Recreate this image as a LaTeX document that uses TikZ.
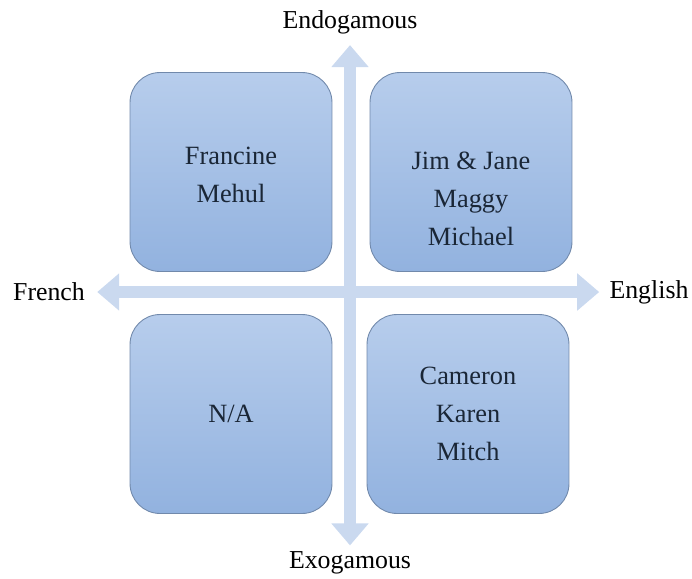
\documentclass[tikz,border=0pt]{standalone}
\usepackage{fontspec}
\setmainfont{Liberation Serif}
\usepackage{tikz}
\usetikzlibrary{positioning,arrows.meta}
\definecolor{boxtop}{HTML}{B7CDEC}
\definecolor{boxbot}{HTML}{92B2DF}
\definecolor{boxline}{HTML}{7189AB}
\definecolor{axisblue}{HTML}{CAD9EF}
\definecolor{txtdark}{HTML}{1A2636}

\tikzset{
  quad/.style={rectangle, rounded corners=0.6cm, draw=boxline, line width=0.5pt,
    top color=boxtop, bottom color=boxbot, minimum width=4.04cm, minimum height=3.98cm},
  names/.style={align=center, text=txtdark, font=\rmfamily\fontsize{15}{21.8}\selectfont},
  axislabel/.style={inner sep=0pt, font=\rmfamily\fontsize{14.7}{17}\selectfont},
  axisline/.style={draw=axisblue, line width=0.24cm,
    {Triangle[width=0.72cm,length=0.44cm]}-{Triangle[width=0.72cm,length=0.44cm]}}
}

\begin{document}
\begin{tikzpicture}[x=0.02cm, y=-0.02cm]
  \useasboundingbox (0,0) rectangle (692,578);

  % axis labels
  \node[axislabel] (endo) at (350,22) {Endogamous};
  \node[axislabel] (exo) at (350,563) {Exogamous};
  \node[axislabel] (french) at (49,292) {French};
  \node[axislabel] (english) at (649,292) {English};

  % axes
  \draw[axisline, shorten <=0.24cm, shorten >=0.2cm] (french.east) -- (english.west);
  \draw[axisline, shorten <=0.22cm, shorten >=0.12cm] (endo.south) -- (exo.north);

  % quadrants
  \node[quad] (frEndo) at (231,172) {};
  \node[quad] (enEndo) at (471,172) {};
  \node[quad] (frExo) at (231,414) {};
  \node[quad] (enExo) at (468,414) {};

  % names
  \node[names] (frEndoTxt) at (231,175) {Francine\\Mehul};
  \node[names] (enEndoTxt) at (471,199) {Jim \& Jane\\Maggy\\Michael};
  \node[names] (frExoTxt) at (231,414) {N/A};
  \node[names] (enExoTxt) at (468,414) {Cameron\\Karen\\Mitch};
\end{tikzpicture}
\end{document}
